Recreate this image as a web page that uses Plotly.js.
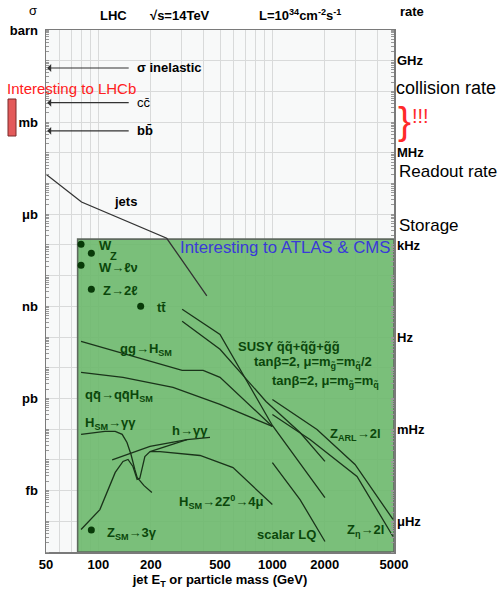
<!DOCTYPE html>
<html><head><meta charset="utf-8">
<script src="https://cdn.plot.ly/plotly-3.0.1.min.js"></script>
<style>body{margin:0;background:#fff}#c{width:502px;height:591px}</style>
</head><body><div id="c"></div>
<script>
// ---- data (x in GeV, sigma in barn) ----
const xTickVals = [50,60,70,80,90,100,200,300,400,500,600,700,800,900,1000,2000,3000,4000,5000];
const xTickLabels = ['50','','','','','100','200','','','500','','','','','1000','2000','','','5000'];
const yUnitLabels = ['barn','mb','μb','nb','pb','fb'];
const rateLabels = ['GHz','MHz','kHz','Hz','mHz','μHz'];
const rateSigma = [1e-1,1e-4,1e-7,1e-10,1e-13,1e-16];

const regionX = [76,5000];
const regionY = [1e-17,1.55e-7];

const jetsX = [50,80,247,420];
const jetsY = [2.0e-5,2.5e-6,1.65e-7,2.2e-9];

const ggHX = [79.5,303,400,500,1000];
const ggHY = [7.2e-11,8.2e-12,8.2e-12,4.9e-12,1.23e-13];

const qqHX = [79.5,138.5,268.5,500,1000];
const qqHY = [7.1e-12,4.9e-12,2.3e-12,6.4e-13,1.23e-13];

const susyAX = [303,500,1000,2005];
const susyAY = [8.0e-10,1.22e-10,1.32e-13,5.9e-16];
const susyBX = [303,500,919,1442,2005];
const susyBY = [3.25e-10,4.0e-11,8.0e-13,7.8e-14,8.9e-15];

const zarlX = [1000,1805,2985,4935];
const zarlY = [9.3e-13,9.8e-14,7.1e-15,1.15e-16];
const zetaX = [1000,1645,3065,4935];
const zetaY = [3.0e-13,4.6e-14,2.9e-15,3.2e-17];

const lqX = [1000,1442,2005];
const lqY = [8.2e-15,5.1e-16,2.2e-17];

const hggX = [79.5,109,125,137,146,154,162,167,183,203];
const hggY = [6.8e-14,8.5e-14,8.5e-14,6.8e-14,3.7e-14,1.5e-14,4.9e-15,2.7e-15,1.45e-15,8.7e-16];

const h4muX = [79.5,102,125,138.5,148,158,167,173,185,198,226,384,594,1000];
const h4muY = [5.4e-17,2.4e-16,3.9e-15,8.9e-15,1.03e-14,6.1e-15,2.3e-15,2.5e-15,1.29e-14,1.86e-14,1.86e-14,1.39e-14,5.6e-15,3.5e-16];

const mssmX = [120,198,323,438];
const mssmY = [1.0e-14,2.74e-14,4.6e-14,5.4e-14];
const mssm2X = [198,323];
const mssm2Y = [1.86e-14,4.6e-14];

const dotX = [79.5,91.1,79.5,91.1,175,91.1];
const dotY = [1.05e-7,5.4e-8,2.2e-8,3.6e-9,1.0e-9,5.2e-17];

const arrowSigma = [0.058,4.3e-3,5.2e-4];
const arrowLabels = ['<b>σ inelastic</b>','cc̄','<b>bb̄</b>'];

// ---- helpers ----
const L=46,R=394,T=30,B=552;
function P(px,py){return {x:(px-L)/(R-L), y:(B-py)/(B-T), xref:'paper', yref:'paper'};}
const FONT='Liberation Sans, Arial, sans-serif';
const DG='#0b470b';
function ann(text,px,py,o){
  return Object.assign(P(px,py),{text:text,showarrow:false,xanchor:'left',yanchor:'middle',
    font:{family:FONT,size:13,color:'#000'}},o||{});
}
function line(x,y,c,w){return {x:x,y:y,type:'scatter',mode:'lines',line:{color:c||'#1a331a',width:w||1.3},hoverinfo:'skip',showlegend:false};}

const traces = [
  {x:[regionX[0],regionX[1],regionX[1],regionX[0],regionX[0]],
   y:[regionY[0],regionY[0],regionY[1],regionY[1],regionY[0]],
   type:'scatter',mode:'lines',fill:'toself',fillcolor:'rgba(108,184,108,0.9)',
   line:{color:'#5f6a5f',width:1.6},hoverinfo:'skip',showlegend:false},
  line(jetsX,jetsY,'#333'),
  line(ggHX,ggHY), line(qqHX,qqHY),
  line(susyAX,susyAY), line(susyBX,susyBY),
  line(zarlX,zarlY), line(zetaX,zetaY), line(lqX,lqY),
  line(hggX,hggY), line(h4muX,h4muY), line(mssmX,mssmY), line(mssm2X,mssm2Y),
  {x:dotX,y:dotY,type:'scatter',mode:'markers',marker:{color:'#083a08',size:7},hoverinfo:'skip',showlegend:false},
  {x:[50],y:[1e-10],yaxis:'y2',type:'scatter',mode:'markers',marker:{opacity:0},hoverinfo:'skip',showlegend:false}
];

const yTickVals=[],yTickText=[];
for(let e=0;e>=-17;e--){yTickVals.push(Math.pow(10,e)); yTickText.push((-e)%3===0 && -e/3<yUnitLabels.length ? yUnitLabels[-e/3] : '');}

const annotations = [];
arrowSigma.forEach((s,i)=>{
  annotations.push({x:Math.log10(50.8),y:Math.log10(s),xref:'x',yref:'y',ax:83,ay:0,text:'',showarrow:true,
    arrowhead:1,arrowsize:1.2,arrowwidth:1.1,arrowcolor:'#333',standoff:0});
  annotations.push({x:Math.log10(50)+(135-46)/174, y:Math.log10(s), xref:'x', yref:'y',
    text:arrowLabels[i],showarrow:false,xanchor:'left',yanchor:'middle',font:{family:FONT,size:13,color:'#000'}});
});
const G={font:{family:FONT,size:13,color:DG}};
annotations.push(
  ann('σ',33,11,{xanchor:'center'}),
  ann('<b>LHC</b>',113,16,{xanchor:'center'}),
  ann('<b>√s=14TeV</b>',180,16,{xanchor:'center'}),
  ann('<b>L=10<sup>34</sup>cm<sup>-2</sup>s<sup>-1</sup></b>',300,15,{xanchor:'center'}),
  ann('<b>rate</b>',398,12),
  ann('collision rate',394,88,{font:{family:FONT,size:18,color:'#000'}}),
  ann('}',396,120,{font:{family:FONT,size:39,color:'#ff2a2a'}}),
  ann('!!!',410,116,{font:{family:FONT,size:20,color:'#ff2a2a'}}),
  ann('Readout rate',397,172,{font:{family:FONT,size:17,color:'#000'}}),
  ann('Storage',397,226,{font:{family:FONT,size:17,color:'#000'}}),
  ann('Interesting to LHCb',5,88,{font:{family:FONT,size:15,color:'#ff2020'}}),
  ann('Interesting to ATLAS &amp; CMS',178,248,{font:{family:FONT,size:16.8,color:'#3a3ad8'}}),
  ann('<b>jets</b>',112,201),
  ann('<b>W</b>',97,245,G), ann('<b>Z</b>',108,256,{font:{family:FONT,size:11,color:DG}}),
  ann('<b>W→ℓν</b>',97,267,G),
  ann('<b>Z→2ℓ</b>',101,290,G),
  ann('<b>tt̄</b>',155,307,G),
  ann('<b>gg→H<sub>SM</sub></b>',118,349,G),
  ann('<b>qq̄→qq̄H<sub>SM</sub></b>',83,395,G),
  ann('<b>H<sub>SM</sub>→γγ</b>',83,423,G),
  ann('<b>h→γγ</b>',170,430,G),
  ann('<b>Z<sub>SM</sub>→3γ</b>',105,533,G),
  ann('<b>H<sub>SM</sub>→2Z<sup>0</sup>→4μ</b>',177,502,G),
  ann('<b>scalar LQ</b>',255,534,G),
  ann('<b>Z<sub>η</sub>→2l</b>',345,530,G),
  ann('<b>Z<sub>ARL</sub>→2l</b>',328,434,G),
  ann('<b>SUSY q̃q̃+q̃g̃+g̃g̃</b>',236,346,G),
  ann('<b>tanβ=2, μ=m<sub>g̃</sub>=m<sub>q̃</sub>/2</b>',252,362,G),
  ann('<b>tanβ=2, μ=m<sub>g̃</sub>=m<sub>q̃</sub></b>',270,381,G)
);

const shapes = [
  {type:'rect',xref:'paper',yref:'paper',
    x0:(8-L)/(R-L),x1:(16-L)/(R-L),y0:(B-136)/(B-T),y1:(B-99)/(B-T),
    fillcolor:'#e35a5a',line:{color:'#7a2a2a',width:1}}
];

const layout = {
  width:502,height:591,margin:{l:46,r:108,t:30,b:39},
  paper_bgcolor:'#fff',plot_bgcolor:'#f8f9f9',
  font:{family:FONT,size:13,color:'#000'},
  showlegend:false,
  xaxis:{type:'log',range:[Math.log10(50),Math.log10(5000)],tickvals:xTickVals,ticktext:xTickLabels,
    showgrid:true,gridcolor:'#d9dada',gridwidth:1,zeroline:false,
    showline:true,mirror:true,linecolor:'#7a7a7a',linewidth:1.5,ticks:'',
    tickfont:{family:FONT,size:13,weight:'bold'},
    title:{text:'<b>jet E<sub>T</sub> or particle mass (GeV)</b>',font:{family:FONT,size:13},standoff:2}},
  yaxis:{type:'log',range:[-17,0],tickvals:yTickVals,ticktext:yTickText,
    showgrid:true,gridcolor:'#d9dada',gridwidth:1,zeroline:false,
    showline:true,mirror:true,linecolor:'#7a7a7a',linewidth:1.5,ticks:'',ticklabelstandoff:4,
    tickfont:{family:FONT,size:13,weight:'bold'},
    minor:{ticks:'inside',ticklen:3,tickcolor:'#999',dtick:'D1',showgrid:false}},
  yaxis2:{type:'log',range:[-17,0],overlaying:'y',side:'right',tickvals:rateSigma,ticktext:rateLabels,
    showgrid:false,zeroline:false,ticks:'',tickfont:{family:FONT,size:13,weight:'bold'},ticklabelstandoff:2,
    minor:{ticks:'inside',ticklen:3,tickcolor:'#999',dtick:'D1',showgrid:false}},
  shapes:shapes,
  annotations:annotations
};
Plotly.newPlot('c',traces,layout,{staticPlot:true});
</script></body></html>
